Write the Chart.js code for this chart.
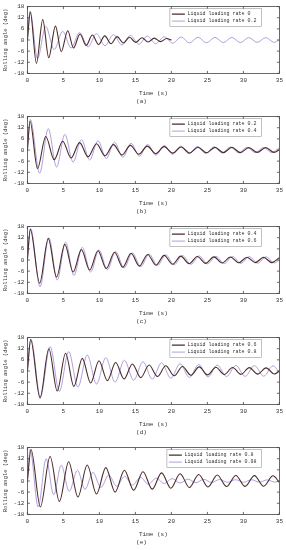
<!DOCTYPE html>
<html>
<head>
<meta charset="utf-8">
<script src="https://cdn.jsdelivr.net/npm/chart.js@4.4.1/dist/chart.umd.min.js"></script>
<style>
  body { margin: 0; background: #fff; }
  .panel { position: absolute; left: 0; width: 286px; height: 110px; }
</style>
</head>
<body>
<div class="panel" style="top:0"><canvas id="c0"></canvas></div>
<div class="panel" style="top:110px"><canvas id="c1"></canvas></div>
<div class="panel" style="top:220px"><canvas id="c2"></canvas></div>
<div class="panel" style="top:331px"><canvas id="c3"></canvas></div>
<div class="panel" style="top:441px"><canvas id="c4"></canvas></div>
<script>
// roll decay curves, [time (s), rolling angle (deg)] read at peaks/troughs
const rate0 = [[0,0],[0.4,15],[1.25,-12.6],[2.13,11],[2.96,-9.5],[3.9,7.5],[4.7,-6.3],[5.6,5],[6.4,-4.3],[7.3,3.2],[8.16,-2.9],[9.02,2.7],[9.88,-2.4],[10.74,2.2],[11.6,-2.0],[12.46,1.8],[13.32,-1.6],[14.18,1.5],[15.04,-1.3],[15.9,1.2],[16.76,-1.1],[17.62,1.0],[18.48,-0.9],[19.34,0.8],[20,0]];
const rate02 = [[0,0],[0.37,15.5],[1.4,-10],[2.55,7.3],[3.72,-5.2],[4.9,4.7],[6.07,-4.3],[7.25,4.0],[8.42,-3.7],[9.6,3.4],[10.77,-3.1],[11.95,2.9],[13.12,-2.7],[14.3,2.5],[15.47,-2.3],[16.65,2.1],[17.82,-2.0],[19.0,1.8],[20.17,-1.7],[21.35,1.6],[22.52,-1.6],[23.7,1.5],[24.87,-1.5],[26.05,1.4],[27.22,-1.4],[28.4,1.4],[29.57,-1.4],[30.75,1.3],[31.92,-1.3],[33.1,1.3],[34.27,-1.3],[35,0.2]];
const rate04 = [[0,0],[0.4,16.5],[1.7,-12.5],[2.9,11.5],[4.05,-9.2],[5.2,8.4],[6.35,-6.5],[7.5,5.6],[8.65,-5.4],[9.8,5.0],[10.95,-4.6],[12.1,4.2],[13.25,-3.9],[14.4,3.6],[15.55,-3.3],[16.7,3.0],[17.85,-2.8],[19.0,2.5],[20.15,-2.3],[21.3,2.1],[22.45,-2.0],[23.6,1.9],[24.75,-1.8],[25.9,1.7],[27.05,-1.6],[28.2,1.6],[29.35,-1.5],[30.5,1.5],[31.65,-1.4],[32.8,1.4],[33.95,-1.4],[35,1.3]];
const rate06 = [[0,0],[0.45,17],[1.75,-14.5],[2.98,12],[4.14,-10.8],[5.3,9.6],[6.46,-8.3],[7.62,6.8],[8.78,-6.5],[9.94,5.5],[11.1,-5.2],[12.26,4.6],[13.42,-4.3],[14.58,3.8],[15.74,-3.6],[16.9,3.2],[18.06,-3.0],[19.22,2.8],[20.38,-2.6],[21.54,2.4],[22.7,-2.3],[23.86,2.2],[25.02,-2.1],[26.18,2.0],[27.34,-1.9],[28.5,1.9],[29.66,-1.8],[30.82,1.8],[31.98,-1.7],[33.14,1.7],[34.3,-1.6],[35,0]];
const rate08 = [[0,0],[0.5,17],[1.8,-14],[3.15,13.2],[4.44,-11],[5.73,10.4],[7.02,-8.6],[8.31,8.6],[9.6,-7.0],[10.89,7.2],[12.18,-6.0],[13.47,5.8],[14.76,-5.0],[16.05,5.0],[17.34,-4.4],[18.63,4.4],[19.92,-3.9],[21.21,3.9],[22.5,-3.5],[23.79,3.5],[25.08,-3.2],[26.37,3.2],[27.66,-3.0],[28.95,3.0],[30.24,-2.9],[31.53,2.9],[32.82,-2.8],[34.11,2.8],[35,-0.8]];
const rate098 = [[0,0],[0.37,17],[1.5,-14],[2.6,12],[3.65,-7.4],[4.7,8.5],[5.8,-5.6],[6.95,5.8],[8.0,-4.5],[9.1,4.6],[10.2,-3.5],[11.3,3.2],[12.4,-2.8],[13.5,2.5],[14.6,-2.2],[15.7,2.0],[16.8,-1.8],[17.9,1.6],[19.0,-1.4],[20.1,1.3],[21.2,-1.1],[22.3,1.0],[23.4,-0.9],[24.5,0.9],[25.6,-0.8],[26.7,0.8],[27.8,-0.7],[28.9,0.7],[30.0,-0.7],[31.1,0.7],[32.2,-0.6],[33.3,0.6],[34.4,-0.6],[35,0]];

const panelTags = ['(a)', '(b)', '(c)', '(d)', '(e)'];
const panelRates = [['0', '0.2'], ['0.2', '0.4'], ['0.4', '0.6'], ['0.6', '0.8'], ['0.8', '0.98']];
const panelSeries = [[rate0, rate02], [rate02, rate04], [rate04, rate06], [rate06, rate08], [rate08, rate098]];

const FONT = 'Liberation Mono';
const DARK = '#4b2b2a';
const LIGHT = '#a596d8';
const LEG_SIZE = 5, LEG_PAD = 2, LEG_LINE = 13;

// frame + inward ticks, legend moved to top right with a border
const framePlugin = {
  id: 'frame',
  afterLayout(chart) {
    const lg = chart.legend, a = chart.chartArea;
    if (!lg || !lg.legendItems) return;
    const ctx = chart.ctx;
    ctx.save();
    ctx.font = LEG_SIZE + 'px "' + FONT + '"';
    let tw = 0;
    lg.legendItems.forEach(it => { tw = Math.max(tw, ctx.measureText(it.text).width); });
    ctx.restore();
    const w = Math.max(tw + LEG_LINE + LEG_SIZE / 2 + LEG_PAD * 2 + 3, 84);
    const h = lg.legendItems.length * (LEG_SIZE + LEG_PAD) + LEG_PAD + 2;
    lg.left = a.right - w - 18;
    lg.right = lg.left + w;
    lg.top = a.top + 2;
    lg.bottom = lg.top + h;
    lg._boxW = w; lg._boxH = h;
  },
  afterDraw(chart) {
    const ctx = chart.ctx, a = chart.chartArea;
    const xs = chart.scales.x, ys = chart.scales.y;
    ctx.save();
    ctx.strokeStyle = '#444';
    ctx.lineWidth = 0.8;
    ctx.strokeRect(a.left, a.top, a.right - a.left, a.bottom - a.top);
    ctx.beginPath();
    xs.ticks.forEach(t => {
      const px = xs.getPixelForValue(t.value);
      ctx.moveTo(px, a.bottom); ctx.lineTo(px, a.bottom - 2.5);
      ctx.moveTo(px, a.top); ctx.lineTo(px, a.top + 2.5);
    });
    ys.ticks.forEach(t => {
      const py = ys.getPixelForValue(t.value);
      ctx.moveTo(a.left, py); ctx.lineTo(a.left + 2.5, py);
      ctx.moveTo(a.right, py); ctx.lineTo(a.right - 2.5, py);
    });
    ctx.stroke();
    const lg = chart.legend;
    ctx.strokeStyle = '#999';
    ctx.lineWidth = 0.6;
    ctx.strokeRect(lg.left, lg.top, lg._boxW, lg._boxH);
    ctx.restore();
  }
};

panelTags.forEach((tag, i) => {
  new Chart(document.getElementById('c' + i), {
    type: 'line',
    data: {
      datasets: panelSeries[i].map((s, k) => ({
        label: 'Liquid loading rate ' + panelRates[i][k],
        data: s.map(p => ({ x: p[0], y: p[1] })),
        borderColor: k === 0 ? DARK : LIGHT,
        backgroundColor: k === 0 ? DARK : LIGHT,
        borderWidth: k === 0 ? 1.1 : 0.9,
        pointRadius: 0,
        cubicInterpolationMode: 'monotone',
        fill: false
      }))
    },
    options: {
      responsive: true,
      maintainAspectRatio: false,
      animation: false,
      events: [],
      layout: { padding: { top: 4, right: 5, left: 2, bottom: 0 } },
      scales: {
        x: {
          type: 'linear', min: 0, max: 35,
          grid: { display: false, drawTicks: false }, border: { display: false },
          ticks: { stepSize: 5, padding: 3, maxRotation: 0, autoSkip: false, color: '#333', font: { family: FONT, size: 6 } },
          title: { display: true, text: 'Time (s)', color: '#333', padding: { top: 3, bottom: 0 }, font: { family: FONT, size: 6 } }
        },
        y: {
          min: -18, max: 18,
          grid: { display: false, drawTicks: false }, border: { display: false },
          ticks: { stepSize: 6, padding: 3, autoSkip: false, color: '#333', font: { family: FONT, size: 6 } },
          title: { display: true, text: 'Rolling angle (deg)', color: '#333', padding: { top: 0, bottom: 2 }, font: { family: FONT, size: 5.5 } }
        }
      },
      plugins: {
        legend: {
          position: 'chartArea',
          labels: {
            usePointStyle: true, pointStyle: 'line', pointStyleWidth: LEG_LINE,
            padding: LEG_PAD, color: '#333', font: { family: FONT, size: LEG_SIZE }
          }
        },
        title: {
          display: true, position: 'bottom', text: tag, color: '#333',
          padding: { top: 1, bottom: 5 }, font: { family: FONT, size: 6, weight: 'normal' }
        },
        tooltip: { enabled: false }
      }
    },
    plugins: [framePlugin]
  });
});
</script>
</body>
</html>
